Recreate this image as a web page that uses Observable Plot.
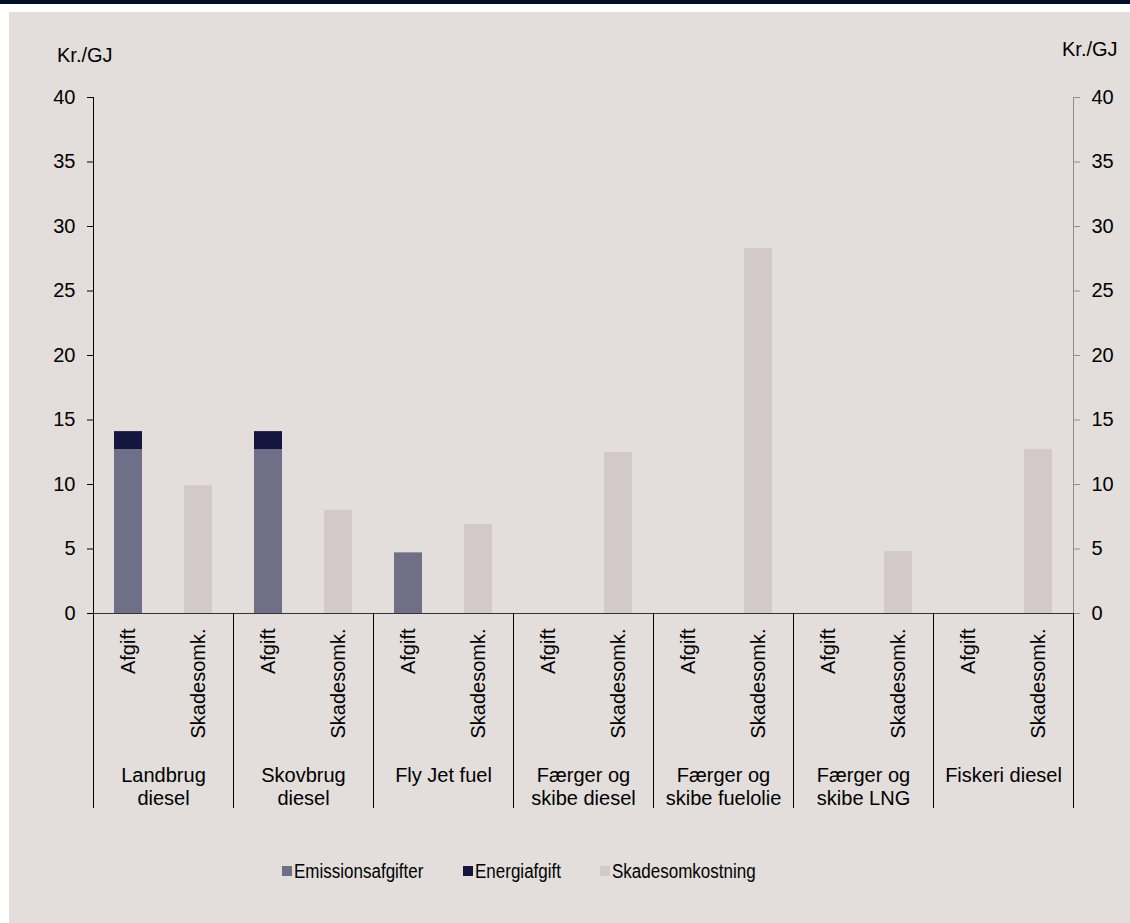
<!DOCTYPE html>
<html>
<head>
<meta charset="utf-8">
<script src="https://cdn.jsdelivr.net/npm/d3@7"></script>
<script src="https://cdn.jsdelivr.net/npm/@observablehq/plot@0.6"></script>
<style>
  html, body { margin: 0; padding: 0; background: #ffffff; }
  body { width: 1130px; height: 923px; position: relative; overflow: hidden;
         font-family: "Liberation Sans", Arial, sans-serif; }
  #topbar { position: absolute; left: 0; top: 0; width: 1130px; height: 4px; background: #000d2b; }
  #panel { position: absolute; left: 9px; top: 12px; width: 1121px; height: 911px; background: #e3dddb; }
  #chart { position: absolute; left: 0; top: 0; }
  .unit { position: absolute; font-size: 20px; line-height: 20px; color: #000; white-space: nowrap; }
  .leg { position: absolute; top: 861px; height: 20px; white-space: nowrap; }
  .leg .sw { position: absolute; left: 0; top: 5px; width: 10px; height: 10px; }
  .leg .lt { position: absolute; left: 12px; top: 0; font-size: 20px; line-height: 20px; color: #000;
             transform: scaleX(0.85); transform-origin: 0 0; }
</style>
</head>
<body>
<div id="topbar"></div>
<div id="panel"></div>
<div id="chart"></div>
<div class="unit" id="unitL" style="left:57px; top:45px;"></div>
<div class="unit" id="unitR" style="left:1062px; top:39px;"></div>
<div id="legend"></div>
<script>
// ---- data ----
const groups = ["Landbrug\ndiesel", "Skovbrug\ndiesel", "Fly Jet fuel", "Færger og\nskibe diesel",
                "Færger og\nskibe fuelolie", "Færger og\nskibe LNG", "Fiskeri diesel"];
const subLabels = ["Afgift", "Skadesomk."];
const seriesNames = ["Emissionsafgifter", "Energiafgift", "Skadesomkostning"];
const seriesColors = ["#6f7088", "#15163f", "#d3c9c8"];
const emission = [12.7, 12.7, 4.7, 0, 0, 0, 0];
const energi   = [1.4, 1.4, 0, 0, 0, 0, 0];
const skade    = [9.9, 8.0, 6.9, 12.5, 28.3, 4.8, 12.7];
const yTicks = [0, 5, 10, 15, 20, 25, 30, 35, 40];
const yUnit = "Kr./GJ";

// ---- derived tables ----
const nSub = subLabels.length;
const bars = [];
groups.forEach((g, i) => {
  const a = i * nSub, b = i * nSub + 1;
  if (emission[i] > 0) bars.push({slot: a, y1: 0, y2: emission[i], s: seriesNames[0]});
  if (energi[i] > 0) bars.push({slot: a, y1: emission[i], y2: emission[i] + energi[i], s: seriesNames[1]});
  if (skade[i] > 0) bars.push({slot: b, y1: 0, y2: skade[i], s: seriesNames[2]});
});
const slots = groups.flatMap((g, i) => subLabels.map((s, j) => ({slot: i * nSub + j, label: s})));
const groupRows = groups.map((g, i) => ({center: i * nSub + nSub / 2, label: g}));
const xMax = groups.length * nSub;
const yMax = yTicks[yTicks.length - 1];
const font = "'Liberation Sans', Arial, sans-serif";

// separators below the axis (custom render function using Plot scales)
function separators(index, scales) {
  const ns = "http://www.w3.org/2000/svg";
  const g = document.createElementNS(ns, "g");
  const y0 = scales.y(0);
  for (let k = 0; k <= groups.length; k++) {
    const x = Math.round(scales.x(k * nSub)) + 0.5;
    const l = document.createElementNS(ns, "line");
    l.setAttribute("x1", x); l.setAttribute("x2", x);
    l.setAttribute("y1", y0); l.setAttribute("y2", y0 + 195);
    l.setAttribute("stroke", "#000"); l.setAttribute("stroke-width", 1);
    g.appendChild(l);
  }
  return g;
}

const chart = Plot.plot({
  width: 1130,
  height: 830,
  marginLeft: 93,
  marginRight: 57,
  marginTop: 97,
  marginBottom: 217,
  style: {background: "transparent", fontFamily: font, fontSize: "20px", color: "#000", overflow: "visible"},
  x: {type: "linear", domain: [0, xMax], axis: null},
  y: {domain: [0, yMax]},
  color: {domain: seriesNames, range: seriesColors},
  marks: [
    Plot.rect(bars, {x1: d => d.slot + 0.3, x2: d => d.slot + 0.7, y1: "y1", y2: "y2", fill: "s"}),
    Plot.ruleX([xMax], {y1: 0, y2: yMax, stroke: "#8e8e8e"}),
    Plot.ruleX([0], {y1: 0, y2: yMax, stroke: "#000"}),
    Plot.ruleY([0], {x1: 0, x2: xMax, stroke: "#333"}),
    Plot.axisY({anchor: "left", ticks: yTicks, tickSize: 6, tickPadding: 12, stroke: "#000", fill: "#000", label: null, fontSize: 20}),
    Plot.axisY({anchor: "right", ticks: yTicks, tickSize: 6, tickPadding: 12, stroke: "#8e8e8e", fill: "#000", label: null, fontSize: 20}),
    separators,
    Plot.text(slots, {x: d => d.slot + 0.5, y: () => 0, text: "label", rotate: -90, textAnchor: "end",
                      lineAnchor: "middle", dy: 15, fontSize: 20, fill: "#000"}),
    Plot.text(groupRows, {x: "center", y: () => 0, text: "label", lineAnchor: "top", dy: 152,
                          lineHeight: 1.15, fontSize: 20, fill: "#000"})
  ]
});
document.getElementById("chart").appendChild(chart);
document.getElementById("unitL").textContent = yUnit;
document.getElementById("unitR").textContent = yUnit;

// legend
const legendX = [282, 463, 600];
const leg = document.getElementById("legend");
seriesNames.forEach((name, i) => {
  const item = document.createElement("div");
  item.className = "leg";
  item.style.left = legendX[i] + "px";
  const sw = document.createElement("span");
  sw.className = "sw"; sw.style.background = seriesColors[i];
  const t = document.createElement("span");
  t.className = "lt"; t.textContent = name;
  item.appendChild(sw); item.appendChild(t);
  leg.appendChild(item);
});
</script>
</body>
</html>
